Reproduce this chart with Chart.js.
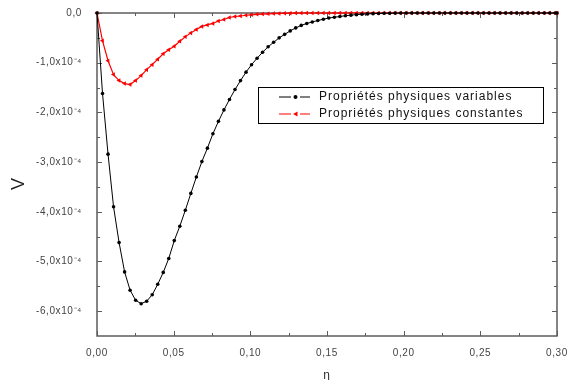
<!DOCTYPE html>
<html>
<head>
<meta charset="utf-8">
<script src="https://cdn.jsdelivr.net/npm/chart.js@4.4.1/dist/chart.umd.min.js"></script>
<style>
  html, body { margin: 0; padding: 0; background: #fff; }
</style>
</head>
<body>
<canvas id="graphe" width="572" height="380"></canvas>
<script>
// eta (abscisse)
const eta = [
  0, 0.0036, 0.0072, 0.0108, 0.0144, 0.018, 0.0216, 0.0252, 0.0288, 0.0324,
  0.036, 0.0396, 0.0432, 0.0468, 0.0504, 0.054, 0.0576, 0.0612, 0.0648, 0.0684,
  0.072, 0.0756, 0.0792, 0.0828, 0.0864, 0.09, 0.0936, 0.0972, 0.1008, 0.1044,
  0.108, 0.1116, 0.1152, 0.1188, 0.1224, 0.126, 0.1296, 0.1332, 0.1368, 0.1404,
  0.144, 0.1476, 0.1512, 0.1548, 0.1584, 0.162, 0.1656, 0.1692, 0.1728, 0.1764,
  0.18, 0.1836, 0.1872, 0.1908, 0.1944, 0.198, 0.2016, 0.2052, 0.2088, 0.2124,
  0.216, 0.2196, 0.2232, 0.2268, 0.2304, 0.234, 0.2376, 0.2412, 0.2448, 0.2484,
  0.252, 0.2556, 0.2592, 0.2628, 0.2664, 0.27, 0.2736, 0.2772, 0.2808, 0.2844,
  0.288, 0.2916, 0.2952, 0.2988, 0.3
];

// V en unités de 1e-4
const vVariables = [
  0, -1.62, -2.84, -3.90, -4.62, -5.21, -5.58, -5.78, -5.85, -5.80,
  -5.67, -5.46, -5.22, -4.94, -4.58, -4.29, -3.97, -3.63, -3.30, -2.99,
  -2.72, -2.43, -2.18, -1.95, -1.74, -1.54, -1.36, -1.19, -1.04, -0.91,
  -0.79, -0.68, -0.59, -0.50, -0.43, -0.36, -0.30, -0.25, -0.21, -0.18,
  -0.15, -0.125, -0.10, -0.085, -0.07, -0.055, -0.043, -0.033, -0.025, -0.018,
  -0.013, -0.009, -0.006, -0.004, -0.002, -0.001, 0, 0, 0, 0,
  0, 0, 0, 0, 0, 0, 0, 0, 0, 0,
  0, 0, 0, 0, 0, 0, 0, 0, 0, 0,
  0, 0, 0, 0, 0
];

const vConstantes = [
  0, -0.56, -0.96, -1.24, -1.36, -1.42, -1.44, -1.36, -1.26, -1.14,
  -1.04, -0.93, -0.82, -0.74, -0.67, -0.57, -0.48, -0.40, -0.33, -0.27,
  -0.24, -0.21, -0.16, -0.13, -0.09, -0.07, -0.06, -0.045, -0.037, -0.027,
  -0.021, -0.016, -0.012, -0.009, -0.006, -0.004, -0.002, -0.001, 0, 0,
  0, 0, 0, 0, 0, 0, 0, 0, 0, 0,
  0, 0, 0, 0, 0, 0, 0, 0, 0, 0,
  0, 0, 0, 0, 0, 0, 0, 0, 0, 0,
  0, 0, 0, 0, 0, 0, 0, 0, 0, 0,
  0, 0, 0, 0, 0
];

const nomsSeries = ['Propriétés physiques variables', 'Propriétés physiques constantes'];

const xTicks = [0, 0.05, 0.10, 0.15, 0.20, 0.25, 0.30];
const xTickLabels = ['0,00', '0,05', '0,10', '0,15', '0,20', '0,25', '0,30'];
const xMinor = [0.025, 0.075, 0.125, 0.175, 0.225, 0.275];

const yTicks = [0, -1, -2, -3, -4, -5, -6];
const yTickLabels = ['0,0', '-1,0x10⁻⁴', '-2,0x10⁻⁴', '-3,0x10⁻⁴', '-4,0x10⁻⁴', '-5,0x10⁻⁴', '-6,0x10⁻⁴'];
const yMinor = [-0.5, -1.5, -2.5, -3.5, -4.5, -5.5];

const FONT = '"Liberation Sans", Arial, sans-serif';

// pas de marge ajoutée par les étiquettes qui débordent
const sansMarge = s => { s.paddingTop = 0; s.paddingBottom = 0; s.paddingLeft = 0; s.paddingRight = 0; };

// cadre + graduations vers l'intérieur (style Origin)
const cadrePlugin = {
  id: 'cadre',
  beforeDraw(chart) {
    chart.ctx.letterSpacing = '0.6px';
  },
  beforeDatasetsDraw(chart) {
    const { ctx, chartArea: a, scales: { x, y } } = chart;
    const trait = (x1, y1, x2, y2) => { ctx.beginPath(); ctx.moveTo(x1, y1); ctx.lineTo(x2, y2); ctx.stroke(); };
    ctx.save();
    ctx.strokeStyle = '#5c5c5c';
    ctx.lineWidth = 1.5;
    ctx.strokeRect(a.left, a.top, a.right - a.left, a.bottom - a.top);
    ctx.lineWidth = 1;
    xTicks.forEach(v => { const p = Math.round(x.getPixelForValue(v)) + 0.5; trait(p, a.bottom, p, a.bottom - 5); trait(p, a.top, p, a.top + 5); });
    xMinor.forEach(v => { const p = Math.round(x.getPixelForValue(v)) + 0.5; trait(p, a.bottom, p, a.bottom - 3); trait(p, a.top, p, a.top + 3); });
    yTicks.forEach(v => { const p = Math.round(y.getPixelForValue(v)) + 0.5; trait(a.left, p, a.left + 5, p); trait(a.right, p, a.right - 5, p); });
    yMinor.forEach(v => { const p = Math.round(y.getPixelForValue(v)) + 0.5; trait(a.left, p, a.left + 3, p); trait(a.right, p, a.right - 3, p); });
    ctx.restore();
  },
  afterDraw(chart) {
    const ctx = chart.ctx;
    ctx.save();
    // titre axe V
    ctx.translate(19.5, 184);
    ctx.rotate(-Math.PI / 2);
    ctx.fillStyle = '#222';
    ctx.font = '18px ' + FONT;
    ctx.letterSpacing = '0px';
    ctx.textAlign = 'center';
    ctx.textBaseline = 'middle';
    ctx.fillText('V', 0, 0);
    ctx.restore();
  }
};

// légende encadrée dans la zone du graphe
const legendePlugin = {
  id: 'legende',
  afterDraw(chart) {
    const ctx = chart.ctx;
    ctx.save();
    ctx.strokeStyle = '#000';
    ctx.lineWidth = 1;
    ctx.strokeRect(258.5, 87.5, 285, 36);
    chart.data.datasets.forEach((ds, i) => {
      const yy = 97 + i * 17;
      ctx.strokeStyle = ds.borderColor;
      ctx.fillStyle = ds.borderColor;
      ctx.beginPath();
      ctx.moveTo(279, yy); ctx.lineTo(291, yy);
      ctx.moveTo(300, yy); ctx.lineTo(310, yy);
      ctx.stroke();
      ctx.beginPath();
      if (i === 0) {
        ctx.arc(295.5, yy, 2, 0, Math.PI * 2);
      } else {
        ctx.moveTo(293, yy); ctx.lineTo(297.5, yy - 2.6); ctx.lineTo(297.5, yy + 2.6); ctx.closePath();
      }
      ctx.fill();
      ctx.fillStyle = '#111';
      ctx.font = '12px ' + FONT;
      ctx.letterSpacing = '1px';
      ctx.textBaseline = 'middle';
      ctx.fillText(ds.label, 319, yy);
    });
    ctx.restore();
  }
};

const points = serie => eta.map((e, i) => ({ x: e, y: serie[i] }));

new Chart(document.getElementById('graphe'), {
  type: 'line',
  data: {
    datasets: [
      {
        label: nomsSeries[0],
        data: points(vVariables),
        borderColor: '#000000',
        backgroundColor: '#000000',
        borderWidth: 1,
        pointStyle: 'circle',
        pointRadius: 1.8,
        pointBorderWidth: 0,
        tension: 0,
        clip: 4
      },
      {
        label: nomsSeries[1],
        data: points(vConstantes),
        borderColor: '#ff0000',
        backgroundColor: '#ff0000',
        borderWidth: 1.2,
        pointStyle: 'triangle',
        rotation: -90,
        pointRadius: 2.6,
        pointBorderWidth: 0,
        tension: 0,
        clip: 4
      }
    ]
  },
  options: {
    responsive: false,
    animation: false,
    layout: { padding: { left: 0, top: 13, right: 15, bottom: 0 } },
    plugins: { legend: { display: false }, tooltip: { enabled: false } },
    scales: {
      x: {
        type: 'linear',
        min: 0,
        max: 0.3,
        grid: { display: false, drawTicks: false },
        border: { display: false },
        afterBuildTicks: s => { s.ticks = xTicks.map(v => ({ value: v })); },
        afterFit: s => { s.height = 44; sansMarge(s); },
        ticks: {
          autoSkip: false,
          maxRotation: 0,
          padding: 11,
          color: '#444',
          font: { family: FONT, size: 10 },
          callback: v => xTickLabels[xTicks.indexOf(v)]
        },
        title: {
          display: true,
          text: 'η',
          color: '#333',
          font: { family: FONT, size: 12 },
          padding: { top: 0, bottom: -3 }
        }
      },
      y: {
        type: 'linear',
        min: -6.5,
        max: 0,
        grid: { display: false, drawTicks: false },
        border: { display: false },
        afterBuildTicks: s => { s.ticks = yTicks.map(v => ({ value: v })); },
        afterFit: s => { s.width = 97; sansMarge(s); },
        ticks: {
          autoSkip: false,
          padding: 15,
          color: '#444',
          font: { family: FONT, size: 10 },
          callback: v => yTickLabels[yTicks.indexOf(v)]
        }
      }
    }
  },
  plugins: [cadrePlugin, legendePlugin]
});
</script>
</body>
</html>
